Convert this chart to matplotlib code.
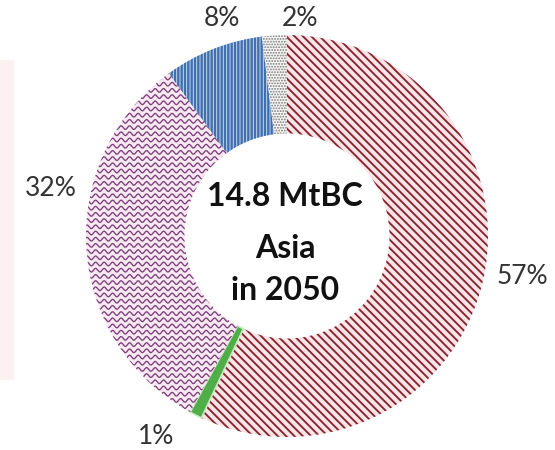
import numpy as np
import matplotlib
matplotlib.use("Agg")
import matplotlib.pyplot as plt
from matplotlib.patches import Rectangle

# Black carbon emission shares by sector (Asia, 2050)
sectors = ["Residential", "Agriculture", "Industry", "Transport", "Other"]
shares = [57, 1, 32, 8, 2]
share_labels = ["57%", "1%", "32%", "8%", "2%"]
total_label = ["14.8 MtBC", "Asia", "in 2050"]

face_colors = ["#fbe4e6", "#9fd69a", "#f7e8f1", "#c9d8ec", "#f6f6f6"]
hatch_colors = ["#86232f", "#3f9e3a", "#7b3f7a", "#3f6fae", "#7a7a7a"]
hatches = ["\\\\\\\\", "", "", "|||||", "......"]
hatch_widths = [1.35, 1.0, 1.0, 1.7, 0.9]

plt.rcParams["hatch.linewidth"] = 1.1

fig = plt.figure(figsize=(5.55, 4.5), dpi=100)
ax = fig.add_axes([0, 0, 1, 1])

# faint band at the left margin
ax.add_patch(Rectangle((0, 70), 14, 320, facecolor="#fdf0f3", edgecolor="none"))

cx, cy, R = 287, 214, 201
wedges, _ = ax.pie(shares, radius=R, center=(cx, cy), startangle=90,
                   counterclock=False, wedgeprops=dict(width=R * 0.49),
                   frame=True)
ax.set_xlim(0, 555)
ax.set_ylim(0, 450)
ax.set_aspect("equal")
ax.axis("off")

for w, fc, hc, h, hw in zip(wedges, face_colors, hatch_colors, hatches, hatch_widths):
    w.set_facecolor(fc)
    w.set_edgecolor(hc)
    w.set_hatch(h)
    w.set_linewidth(0)
    if hasattr(w, "set_hatch_linewidth"):
        w.set_hatch_linewidth(hw)

# green wedge: solid stripes along its length
wedges[1].set_facecolor("#4fae48")
wedges[1].set_edgecolor("#c8e8c2")
wedges[1].set_linewidth(1.2)

# wavy pattern for the industry wedge
xs = np.linspace(0, 555, 2000)
for y0 in np.arange(0, 460, 6.2):
    line, = ax.plot(xs, y0 + 1.8 * np.sin(2 * np.pi * xs / 8.5),
                    color=hatch_colors[2], lw=0.95)
    line.set_clip_path(wedges[2])

# percentage labels
label_pos = [(522, 174), (156, 14), (51, 262), (222, 431), (300, 431)]
for txt, (x, y) in zip(share_labels, label_pos):
    ax.text(x, y, txt, ha="center", va="center", fontsize=19,
            family="Lato", color="#333333")

# central caption
for txt, y in zip(total_label, [254, 201, 160]):
    ax.text(cx - 2, y, txt, ha="center", va="center", fontsize=23,
            family="Lato", fontweight="bold", color="#111111")

fig.savefig("out.png", dpi=100)
